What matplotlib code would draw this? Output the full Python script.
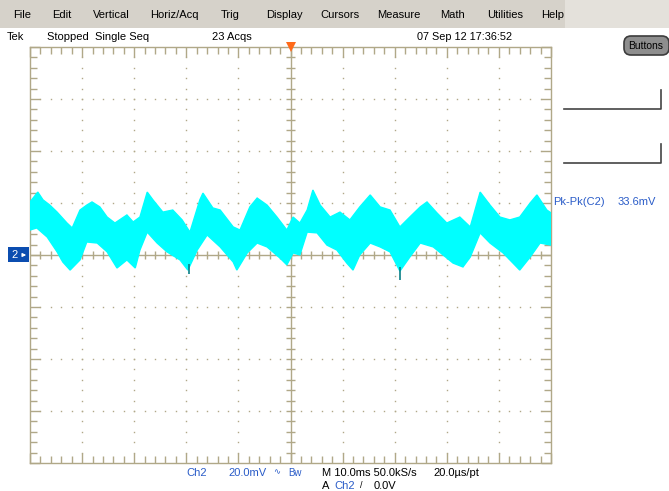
import numpy as np
import matplotlib
matplotlib.use("Agg")
import matplotlib.pyplot as plt
from matplotlib.patches import Rectangle, Polygon, FancyBboxPatch

plt.rcParams['font.family'] = ['Liberation Sans', 'DejaVu Sans']

# waveform envelope: time (ms), voltage (mV)
upper_t = [0.0, 1.5, 2.5, 3.8, 5.2, 7.1, 8.1, 9.6, 10.9, 11.9, 13.4, 14.8, 16.3, 18.6,
           19.8, 21.1, 22.5, 23.6, 25.5, 27.4, 29.2, 30.7, 32.6, 33.2, 35.1, 36.5, 39.0,
           40.3, 42.2, 43.6, 45.5, 47.4, 49.3, 50.5, 51.8, 53.2, 54.3, 55.7, 57.6, 59.5,
           61.4, 63.3, 65.3, 67.2, 69.1, 71.0, 72.9, 74.9, 76.2, 78.1, 80.0, 82.5, 84.5,
           86.4, 88.3, 90.2, 92.1, 94.0, 96.0, 97.3, 99.2, 100.0]
upper_v = [20.4, 24.2, 21.2, 19.2, 16.5, 12.3, 10.4, 17.3, 19.2, 20.4, 18.5, 14.6, 12.3, 15.4,
           12.7, 14.6, 24.2, 21.2, 16.5, 17.3, 13.5, 8.8, 21.2, 23.8, 18.1, 17.3, 10.8,
           9.6, 18.5, 21.9, 19.2, 14.6, 9.6, 14.6, 12.3, 17.3, 25.0, 19.2, 14.6, 16.5,
           13.5, 18.5, 23.1, 18.5, 17.3, 10.8, 14.6, 18.5, 20.4, 16.2, 12.3, 14.6, 10.8,
           24.2, 19.2, 14.6, 13.5, 14.6, 20.0, 23.1, 17.3, 16.2]
lower_t = [0.0, 1.3, 3.3, 5.2, 6.3, 7.7, 9.6, 10.9, 12.9, 14.8, 16.7, 18.6, 20.2, 21.1,
           22.5, 24.4, 26.3, 28.8, 30.3, 32.1, 34.0, 36.5, 39.0, 39.7, 41.7, 43.6, 45.5,
           48.0, 49.3, 50.5, 51.8, 53.2, 55.1, 57.0, 58.9, 60.8, 62.0, 63.3, 65.3, 67.2,
           69.1, 71.0, 72.9, 74.9, 77.4, 79.3, 81.2, 83.1, 84.5, 86.4, 88.3, 90.8, 92.7,
           94.0, 96.0, 97.9, 100.0]
lower_v = [9.6, 10.4, 6.9, 1.2, -2.7, -5.8, -1.9, 5.0, 4.6, 1.2, -5.0, -1.9, -5.0, 1.9,
           8.8, 4.6, 1.2, -1.9, -5.8, 1.9, 7.7, 3.1, -2.7, -5.8, 0.8, 4.6, 3.1,
           -1.2, -3.8, 0.8, 0.0, 8.8, 8.5, 3.8, 1.9, -3.1, -5.8, 0.0, 4.6, 3.1,
           1.2, -6.2, -0.8, 4.6, 3.1, 0.0, -3.1, -4.6, -0.8, 8.5, 4.6, 0.8, -3.1,
           -5.8, -0.8, 4.6, 3.8]
# darker glitches below the band
spike_t = [30.5, 71.0]
spike_lo = [-7.3, -9.6]
spike_hi = [-3.5, -4.5]

menu_items = ["File", "Edit", "Vertical", "Horiz/Acq", "Trig", "Display", "Cursors",
              "Measure", "Math", "Utilities", "Help"]
menu_x = [13, 52, 93, 150, 221, 266, 320, 377, 440, 487, 541]

trigger_pos = 50.0  # ms

TAN = '#b0a888'
BLUE = '#2a5cc8'
CYAN = '#00ffff'

fig = plt.figure(figsize=(6.69, 4.91), dpi=100)
fig.patch.set_facecolor('white')

# screen chrome drawn in pixel coordinates
bg = fig.add_axes([0, 0, 1, 1])
bg.set_xlim(0, 669)
bg.set_ylim(491, 0)
bg.axis('off')
bg.add_patch(Rectangle((0, 0), 565, 28, color='#d6d2ca', lw=0))
bg.add_patch(Rectangle((565, 0), 104, 28, color='#e4e1db', lw=0))
for name, x in zip(menu_items, menu_x):
    bg.text(x, 15, name, fontsize=8, va='center', ha='left', color='black')

bg.text(7, 37, "Tek", fontsize=8, va='center')
bg.text(47, 37, "Stopped  Single Seq", fontsize=8, va='center')
bg.text(212, 37, "23 Acqs", fontsize=8, va='center')
bg.text(417, 37, "07 Sep 12 17:36:52", fontsize=7.8, va='center')

bg.add_patch(FancyBboxPatch((626, 38), 41, 15, boxstyle="round,pad=2,rounding_size=7",
                            facecolor='#8e8e8e', edgecolor='#3c3c3c', lw=1.2))
bg.text(646, 45.5, "Buttons", fontsize=7.5, va='center', ha='center', color='black')

for y0, y1 in [(90, 109), (144, 163)]:
    bg.plot([564, 661, 661], [y1, y1, y0], color='#444444', lw=1.2)

bg.text(553, 202, "Pk-Pk(C2)", fontsize=8, va='center', color=BLUE)
bg.text(618, 202, "33.6mV", fontsize=8, va='center', color=BLUE)

bg.add_patch(Rectangle((8, 247), 21, 15, color='#0b4db0', lw=0))
bg.text(15, 255, "2", fontsize=8, va='center', ha='center', color='white')
bg.annotate("", xy=(29, 255), xytext=(20, 255),
            arrowprops=dict(arrowstyle='-|>', color='white', lw=0.9, mutation_scale=5))
bg.annotate("", xy=(538, 255), xytext=(550, 255),
            arrowprops=dict(arrowstyle='-|>', color=BLUE, lw=1, mutation_scale=6))

bg.text(186, 473, "Ch2", fontsize=8, va='center', color=BLUE)
bg.text(228, 473, "20.0mV", fontsize=8, va='center', color=BLUE)
bg.text(273, 473, "\u223f", fontsize=6, va='center', color=BLUE)
bg.text(288, 473, "Bw", fontsize=7, va='center', color=BLUE)
bg.text(322, 473, "M 10.0ms 50.0kS/s", fontsize=8, va='center')
bg.text(433, 473, "20.0\u00b5s/pt", fontsize=8, va='center')
bg.text(322, 486, "A", fontsize=8, va='center')
bg.text(334, 486, "Ch2", fontsize=8, va='center', color=BLUE)
bg.text(360, 486, "/", fontsize=6.5, va='center')
bg.text(374, 486, "0.0V", fontsize=8, va='center')

# scope graticule
ax = fig.add_axes([30 / 669, (491 - 463) / 491, 521 / 669, 416 / 491])
ax.set_xlim(0, 100)
ax.set_ylim(-80, 80)
ax.set_facecolor('white')
for s in ax.spines.values():
    s.set_color(TAN)
    s.set_linewidth(1)
ax.set_xticks(np.arange(0, 101, 10))
ax.set_xticks(np.arange(0, 101, 2), minor=True)
ax.set_yticks(np.arange(-80, 81, 20))
ax.set_yticks(np.arange(-80, 81, 4), minor=True)
ax.tick_params(which='major', direction='in', length=7, width=1, color=TAN,
               top=True, right=True, labelbottom=False, labelleft=False)
ax.tick_params(which='minor', direction='in', length=5, width=1, color=TAN,
               top=True, right=True)

minor_x = np.arange(2, 100, 2)
minor_y = np.arange(-76, 80, 4)
for gx in [10, 20, 30, 40, 60, 70, 80, 90]:
    ax.plot(np.full(len(minor_y), gx), minor_y, ls='none', marker='s', ms=1.0,
            mew=0, color=TAN, zorder=1)
for gy in [-60, -40, -20, 20, 40, 60]:
    ax.plot(minor_x, np.full(len(minor_x), gy), ls='none', marker='s', ms=1.0,
            mew=0, color=TAN, zorder=1)
ax.axvline(50, color=TAN, lw=1, zorder=1)
ax.axhline(0, color=TAN, lw=1, zorder=1)
ax.vlines(minor_x, -1.6, 1.6, color=TAN, lw=1, zorder=1)
ax.hlines(minor_y, 49.2, 50.8, color=TAN, lw=1, zorder=1)

ax.fill(np.concatenate([upper_t, lower_t[::-1]]),
        np.concatenate([upper_v, lower_v[::-1]]),
        facecolor=CYAN, edgecolor=CYAN, lw=1.0, zorder=3)
ax.vlines(spike_t, spike_lo, spike_hi, color='#0a7f86', lw=1.2, zorder=4)

# trigger position marker at the top edge
ax.plot([trigger_pos], [80], marker='v', ms=7, mew=0, color='#ff6a1a',
        clip_on=False, zorder=6)

fig.savefig("out.png", dpi=100)
